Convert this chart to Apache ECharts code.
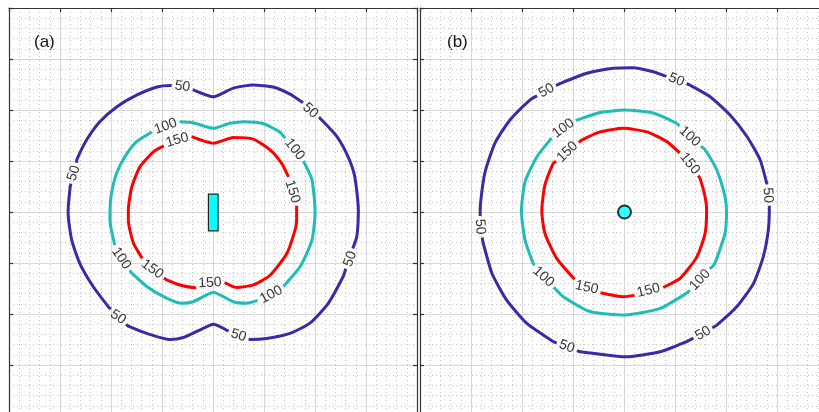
<!DOCTYPE html>
<html>
<head>
<meta charset="utf-8">
<script src="https://cdn.jsdelivr.net/npm/echarts@6/dist/echarts.min.js"></script>
<style>
  html, body { margin: 0; padding: 0; background: #fff; overflow: hidden; }
  /* the two framed panels run past the right and bottom edges of the view */
  #chart { width: 840px; height: 430px; }
</style>
</head>
<body>
<div id="chart"></div>
<script>
// Axis extent shared by both panels (grid units)
const AXIS_MIN = -4;
const AXIS_MAX = 4;
const AXIS_STEP = 1;

// Panel (a): iso-level contours around the rectangular source
const contourA50 = [
  [-2.84, 0.04], [-2.80, 0.50], [-2.66, 1.05], [-2.48, 1.41], [-2.22, 1.77], [-1.89, 2.06],
  [-1.50, 2.29], [-1.10, 2.45], [-0.84, 2.48], [-0.42, 2.41], [0.01, 2.26], [0.40, 2.43],
  [0.79, 2.49], [1.18, 2.45], [1.51, 2.31], [1.74, 2.16], [2.10, 1.84], [2.43, 1.48],
  [2.65, 1.08], [2.78, 0.69], [2.85, 0.04], [2.82, -0.48], [2.55, -1.27], [2.26, -1.79],
  [1.90, -2.18], [1.51, -2.38], [1.05, -2.48], [0.73, -2.50], [0.33, -2.35], [0.01, -2.20],
  [-0.25, -2.31], [-0.58, -2.46], [-0.84, -2.50], [-1.30, -2.38], [-1.66, -2.24], [-2.05, -1.86],
  [-2.35, -1.46], [-2.61, -1.01], [-2.77, -0.55], [-2.84, -0.03]
];
const contourA100 = [
  [-2.02, 0.04], [-1.99, 0.37], [-1.89, 0.76], [-1.73, 1.08], [-1.50, 1.38], [-1.20, 1.57],
  [-0.92, 1.69], [-0.65, 1.77], [-0.39, 1.75], [0.01, 1.64], [0.33, 1.74], [0.63, 1.77],
  [0.99, 1.73], [1.31, 1.57], [1.57, 1.27], [1.80, 0.95], [1.94, 0.63], [2.00, 0.04],
  [2.00, -0.03], [1.94, -0.55], [1.71, -1.07], [1.38, -1.46], [1.14, -1.61], [0.89, -1.73],
  [0.66, -1.79], [0.40, -1.76], [0.01, -1.58], [-0.39, -1.76], [-0.61, -1.79], [-0.91, -1.69],
  [-1.30, -1.46], [-1.59, -1.20], [-1.78, -0.94], [-1.92, -0.68], [-2.02, -0.16]
];
const contourA150 = [
  [-1.66, 0.04], [-1.59, 0.50], [-1.43, 0.89], [-1.17, 1.18], [-0.94, 1.31], [-0.71, 1.39],
  [-0.42, 1.48], [0.01, 1.35], [0.40, 1.46], [0.79, 1.43], [1.12, 1.22], [1.35, 0.95],
  [1.48, 0.69], [1.55, 0.39], [1.64, 0.14], [1.64, -0.16], [1.61, -0.35], [1.45, -0.81],
  [1.12, -1.24], [0.79, -1.43], [0.46, -1.48], [0.20, -1.37], [0.00, -1.31], [-0.35, -1.48],
  [-0.65, -1.43], [-0.91, -1.33], [-1.18, -1.14], [-1.37, -0.94], [-1.56, -0.61], [-1.66, -0.16]
];
// Contour labels for panel (a): [x, y, text, angle along the line]
const labelsA = [
  [-0.60, 2.46, '50', -8], [1.91, 1.99, '50', -42], [-2.73, 0.76, '50', 72],
  [-1.86, -2.06, '50', -34], [0.50, -2.42, '50', -18], [2.69, -0.92, '50', 70],
  [-0.93, 1.68, '100', 20], [1.60, 1.23, '100', -52], [-1.80, -0.91, '100', -56], [1.14, -1.62, '100', 28],
  [-0.70, 1.41, '150', 16], [1.56, 0.40, '150', -72], [-1.19, -1.12, '150', -36], [-0.06, -1.39, '150', 3]
];
// Rectangular source of panel (a): [xMin, xMax, yMin, yMax]
const sourceRectA = [-0.09, 0.10, -0.37, 0.35];

// Panel (b): iso-level contours around the point source
const contourB50 = [
  [-2.82, 0.04], [-2.73, 0.76], [-2.53, 1.35], [-2.24, 1.80], [-1.84, 2.20], [-1.52, 2.38],
  [-1.25, 2.52], [-0.73, 2.72], [-0.21, 2.82], [0.18, 2.83], [0.57, 2.75], [1.03, 2.59],
  [1.29, 2.49], [1.69, 2.26], [2.08, 1.90], [2.41, 1.48], [2.67, 1.02], [2.80, 0.56],
  [2.82, 0.33], [2.85, 0.10], [2.83, -0.35], [2.73, -0.88], [2.54, -1.40], [2.21, -1.86],
  [1.82, -2.22], [1.55, -2.38], [1.23, -2.54], [0.71, -2.74], [0.02, -2.84], [-0.54, -2.78],
  [-0.86, -2.74], [-1.12, -2.64], [-1.39, -2.54], [-1.91, -2.18], [-2.30, -1.73], [-2.59, -1.20],
  [-2.76, -0.61], [-2.82, -0.29]
];
const contourB100 = [
  [-2.01, 0.04], [-1.94, 0.59], [-1.71, 1.08], [-1.42, 1.45], [-1.19, 1.64], [-0.93, 1.80],
  [-0.47, 1.95], [0.02, 2.00], [0.57, 1.94], [1.03, 1.74], [1.29, 1.48], [1.59, 1.22],
  [1.82, 0.82], [1.98, 0.30], [2.01, 0.00], [1.98, -0.42], [1.78, -1.01], [1.49, -1.33],
  [1.23, -1.59], [0.71, -1.89], [0.02, -2.02], [-0.67, -1.95], [-1.19, -1.66], [-1.39, -1.46],
  [-1.58, -1.27], [-1.78, -1.01], [-1.94, -0.55], [-2.01, 0.00]
];
const contourB150 = [
  [-1.61, 0.04], [-1.55, 0.53], [-1.39, 0.95], [-1.11, 1.18], [-0.83, 1.41], [-0.47, 1.57],
  [-0.01, 1.64], [0.45, 1.57], [0.84, 1.38], [1.10, 1.15], [1.29, 0.95], [1.49, 0.66],
  [1.59, 0.30], [1.62, 0.04], [1.59, -0.42], [1.43, -0.88], [1.10, -1.30], [0.77, -1.48],
  [0.48, -1.54], [0.25, -1.63], [-0.01, -1.66], [-0.47, -1.58], [-0.73, -1.48], [-0.96, -1.33],
  [-1.32, -0.91], [-1.55, -0.42], [-1.61, 0.00]
];
// Contour labels for panel (b): [x, y, text, angle along the line]
const labelsB = [
  [-1.52, 2.38, '50', 30], [1.03, 2.59, '50', -22], [2.82, 0.33, '50', -86],
  [1.55, -2.38, '50', 30], [-1.12, -2.64, '50', -20], [-2.82, -0.29, '50', -86],
  [-1.19, 1.64, '100', 36], [1.29, 1.48, '100', -42], [1.49, -1.33, '100', 46], [-1.58, -1.27, '100', -42],
  [-1.11, 1.18, '150', 44], [1.29, 0.95, '150', -52], [0.48, -1.54, '150', 14], [-0.73, -1.48, '150', -12]
];
// Point source of panel (b)
const sourcePointB = [0.01, 0.0];

const levelColors = { '50': '#3a2aa6', '100': '#1fbdb6', '150': '#ff0000' };
const FONT = 'Liberation Sans, Arial, Helvetica, sans-serif';
const LABEL_SIZE = 14;
const PANEL_SIZE = 408;
const PX_PER_UNIT = PANEL_SIZE / (AXIS_MAX - AXIS_MIN);

const chart = echarts.init(document.getElementById('chart'), null, { renderer: 'canvas' });

// Radius (grid units) of the break left in a contour line around its label
function gapRadius(text) {
  return (text.length * 0.556 * LABEL_SIZE / 2 + 3) / PX_PER_UNIT;
}

// Split a closed polyline into visible runs, leaving a gap at each label of that level
function contourRuns(points, labels, level) {
  const circles = labels.filter(l => l[2] === level)
    .map(l => ({ cx: l[0], cy: l[1], r: gapRadius(l[2]) }));
  const pts = points.concat([points[0]]);
  const inside = p => circles.some(c => (p[0] - c.cx) ** 2 + (p[1] - c.cy) ** 2 < c.r * c.r);
  const runs = [];
  let run = null;
  for (let i = 0; i < pts.length - 1; i++) {
    const a = pts[i], b = pts[i + 1];
    const dx = b[0] - a[0], dy = b[1] - a[1];
    const ts = [0, 1];
    circles.forEach(c => {
      const fx = a[0] - c.cx, fy = a[1] - c.cy;
      const A = dx * dx + dy * dy, B = 2 * (fx * dx + fy * dy), C = fx * fx + fy * fy - c.r * c.r;
      const disc = B * B - 4 * A * C;
      if (A > 0 && disc > 0) {
        const s = Math.sqrt(disc);
        [(-B - s) / (2 * A), (-B + s) / (2 * A)].forEach(t => { if (t > 0 && t < 1) ts.push(t); });
      }
    });
    ts.sort((p, q) => p - q);
    const at = t => [a[0] + dx * t, a[1] + dy * t];
    for (let k = 0; k < ts.length - 1; k++) {
      const t0 = ts[k], t1 = ts[k + 1];
      if (t1 - t0 < 1e-9) continue;
      if (!inside(at((t0 + t1) / 2))) {
        if (!run) { run = [at(t0)]; runs.push(run); }
        run.push(at(t1));
      } else {
        run = null;
      }
    }
  }
  // join the last run onto the first when the loop closes without a gap
  if (runs.length > 1 && !inside(pts[0])) {
    const last = runs.pop();
    runs[0] = last.concat(runs[0].slice(1));
  }
  return runs;
}

function axesFor(gridIndex) {
  const base = {
    gridIndex, type: 'value', min: AXIS_MIN, max: AXIS_MAX, interval: AXIS_STEP,
    axisLabel: { show: false },
    axisLine: { show: true, onZero: false, lineStyle: { color: '#333', width: 1.2 } },
    axisTick: { show: true, inside: true, length: 4, lineStyle: { color: '#333', width: 1.2 } }
  };
  const grid = {
    splitLine: { show: true, lineStyle: { color: '#d6d6d6', width: 1 } },
    minorTick: { show: false, splitNumber: 5 },
    minorSplitLine: { show: true, lineStyle: { color: '#c4c4c4', width: 1, type: [1, 3] } }
  };
  const none = { splitLine: { show: false } };
  return {
    x: [
      Object.assign({}, base, grid, { position: 'bottom' }),
      Object.assign({}, base, none, { position: 'top' })
    ],
    y: [
      Object.assign({}, base, grid, { position: 'left' }),
      Object.assign({}, base, none, { position: 'right' })
    ]
  };
}

const axA = axesFor(0);
const axB = axesFor(1);
const xAxes = axA.x.concat(axB.x);   // 0,1 -> grid 0 ; 2,3 -> grid 1
const yAxes = axA.y.concat(axB.y);

function contourSeries(points, labels, level, xi, yi) {
  return contourRuns(points, labels, level).map(run => ({
    type: 'line', xAxisIndex: xi, yAxisIndex: yi,
    data: run, showSymbol: false, symbol: 'none', smooth: 0.2,
    lineStyle: { color: levelColors[level], width: 3, join: 'round', cap: 'butt' },
    silent: true, z: 3
  }));
}

function labelSeries(labels, xi, yi) {
  return {
    type: 'scatter', xAxisIndex: xi, yAxisIndex: yi, symbolSize: 0, z: 5, silent: true,
    data: labels.map(l => ({
      value: [l[0], l[1]],
      label: { rotate: l[3] },
      name: l[2]
    })),
    label: {
      show: true, position: 'inside', formatter: p => p.name,
      fontFamily: FONT, fontSize: LABEL_SIZE, color: '#000'
    }
  };
}

const option = {
  animation: false,
  backgroundColor: '#fff',
  grid: [
    { left: 9, top: 8, width: PANEL_SIZE, height: PANEL_SIZE, containLabel: false },
    { left: 420, top: 8, width: PANEL_SIZE, height: PANEL_SIZE, containLabel: false }
  ],
  xAxis: xAxes,
  yAxis: yAxes,
  graphic: [
    { type: 'text', left: 34, top: 34, style: { text: '(a)', font: '17px ' + FONT, fill: '#111' } },
    { type: 'text', left: 447, top: 34, style: { text: '(b)', font: '17px ' + FONT, fill: '#111' } }
  ],
  series: [].concat(
    contourSeries(contourA50, labelsA, '50', 0, 0),
    contourSeries(contourA100, labelsA, '100', 0, 0),
    contourSeries(contourA150, labelsA, '150', 0, 0),
    [labelSeries(labelsA, 0, 0)],
    [{
      type: 'custom', xAxisIndex: 0, yAxisIndex: 0, z: 4, silent: true,
      data: [sourceRectA],
      renderItem: (params, api) => {
        const p0 = api.coord([api.value(0), api.value(3)]);
        const p1 = api.coord([api.value(1), api.value(2)]);
        return {
          type: 'rect',
          shape: { x: p0[0], y: p0[1], width: p1[0] - p0[0], height: p1[1] - p0[1] },
          style: { fill: '#00ffff', stroke: '#222', lineWidth: 1.2 }
        };
      }
    }],
    contourSeries(contourB50, labelsB, '50', 2, 2),
    contourSeries(contourB100, labelsB, '100', 2, 2),
    contourSeries(contourB150, labelsB, '150', 2, 2),
    [labelSeries(labelsB, 2, 2)],
    [{
      type: 'scatter', xAxisIndex: 2, yAxisIndex: 2, z: 4, silent: true,
      data: [sourcePointB], symbol: 'circle', symbolSize: 13,
      itemStyle: { color: '#00ffff', borderColor: '#000', borderWidth: 2 }
    }]
  )
};

chart.setOption(option);
</script>
</body>
</html>
